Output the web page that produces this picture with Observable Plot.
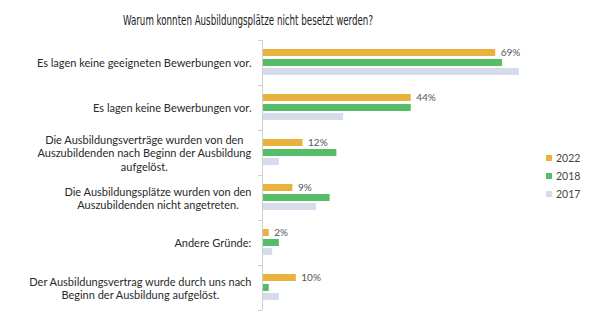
<!DOCTYPE html>
<html>
<head>
<meta charset="utf-8">
<script src="https://cdn.jsdelivr.net/npm/d3@7"></script>
<script src="https://cdn.jsdelivr.net/npm/@observablehq/plot@0.6"></script>
<style>
  html, body { margin: 0; padding: 0; background: #fff; }
  #wrap { position: relative; width: 600px; height: 328px; overflow: hidden; }
  #title { position: absolute; left: 123px; top: 12px; white-space: nowrap; transform-origin: 0 0;
    font-family: "DejaVu Sans", sans-serif; font-stretch: condensed; font-size: 13.5px; color: #222; }
  #chart { position: absolute; left: 0; top: 30px; }
  #legend { position: absolute; left: 546px; top: 149px; font-family: Lato, sans-serif; font-size: 10.5px; color: #444; }
  .li { display: flex; align-items: center; height: 18px; }
  .sw { width: 6px; height: 6px; margin-right: 4px; }
</style>
</head>
<body>
<div id="wrap">
  <div id="title">Warum konnten Ausbildungsplätze nicht besetzt werden?</div>
  <div id="chart"></div>
  <div id="legend"></div>
</div>
<script>
const categories = [
  "Es lagen keine geeigneten Bewerbungen vor.",
  "Es lagen keine Bewerbungen vor.",
  "Die Ausbildungsverträge wurden von den\nAuszubildenden nach Beginn der Ausbildung\naufgelöst.",
  "Die Ausbildungsplätze wurden von den\nAuszubildenden nicht angetreten.",
  "Andere Gründe:",
  "Der Ausbildungsvertrag wurde durch uns nach\nBeginn der Ausbildung aufgelöst."
];
const years = ["2022", "2018", "2017"];
const v2022 = [69, 44, 12, 9, 2, 10];
const v2018 = [71, 44, 22, 20, 5, 2];
const v2017 = [76, 24, 5, 16, 3, 5];
const colors = ["#E8B23C", "#55BD67", "#D6DDEA"];

const series = [v2022, v2018, v2017];
const rows = [];
years.forEach((yr, i) => categories.forEach((c, j) => rows.push({cat: c, year: yr, value: series[i][j]})));
const r = yr => rows.filter(d => d.year === yr);
const insets = {"2022": [9, 29], "2018": [19, 19], "2017": [28, 10]};

const plot = Plot.plot({
  width: 600,
  height: 298,
  marginLeft: 262,
  marginRight: 0,
  marginTop: 10,
  marginBottom: 18,
  x: {domain: [0, 100], axis: null},
  y: {domain: categories, padding: 0, axis: null},
  style: {fontFamily: "Lato, sans-serif"},
  marks: [
    ...years.map((yr, i) => Plot.barX(r(yr), {
      y: "cat", x: "value", fill: colors[i],
      insetTop: insets[yr][0], insetBottom: insets[yr][1]
    })),
    Plot.ruleX([0], {stroke: "#cfcfcf", strokeWidth: 1}),
    Plot.ruleY(categories, {y: d => d, x1: 0, x2: 0, insetLeft: -4, dy: -22.5, stroke: "#cfcfcf"}),
    Plot.ruleY(categories.slice(-1), {y: d => d, x1: 0, x2: 0, insetLeft: -4, dy: 22.5, stroke: "#cfcfcf"}),
    Plot.text(r("2022"), {
      y: "cat", x: "value", text: d => d.value + "%", textAnchor: "start",
      dx: 5, dy: -10, fontSize: 10, fill: "#555"
    }),
    Plot.text(categories, {
      y: d => d, text: d => d, frameAnchor: "left", textAnchor: "middle",
      lineHeight: 1.23, fontSize: 11, fill: "#2a2a2a"
    })
  ]
});
document.getElementById("chart").appendChild(plot);

// right-align the label blocks while keeping their lines centred
const textGroups = plot.querySelectorAll('g[aria-label="text"]');
const labelGroup = textGroups[textGroups.length - 1];
labelGroup.querySelectorAll("text").forEach(t => {
  const b = t.getBBox();
  const shift = -11 - (b.x + b.width);
  t.setAttribute("transform", (t.getAttribute("transform") || "") + ` translate(${shift},0)`);
});

// fit the condensed title to the reference width
const title = document.getElementById("title");
const tw = title.getBoundingClientRect().width;
title.style.transform = `scaleX(${250 / tw})`;

const lg = document.getElementById("legend");
years.forEach((yr, i) => {
  const row = document.createElement("div");
  row.className = "li";
  row.innerHTML = `<span class="sw" style="background:${colors[i]}"></span><span>${yr}</span>`;
  lg.appendChild(row);
});
</script>
</body>
</html>
